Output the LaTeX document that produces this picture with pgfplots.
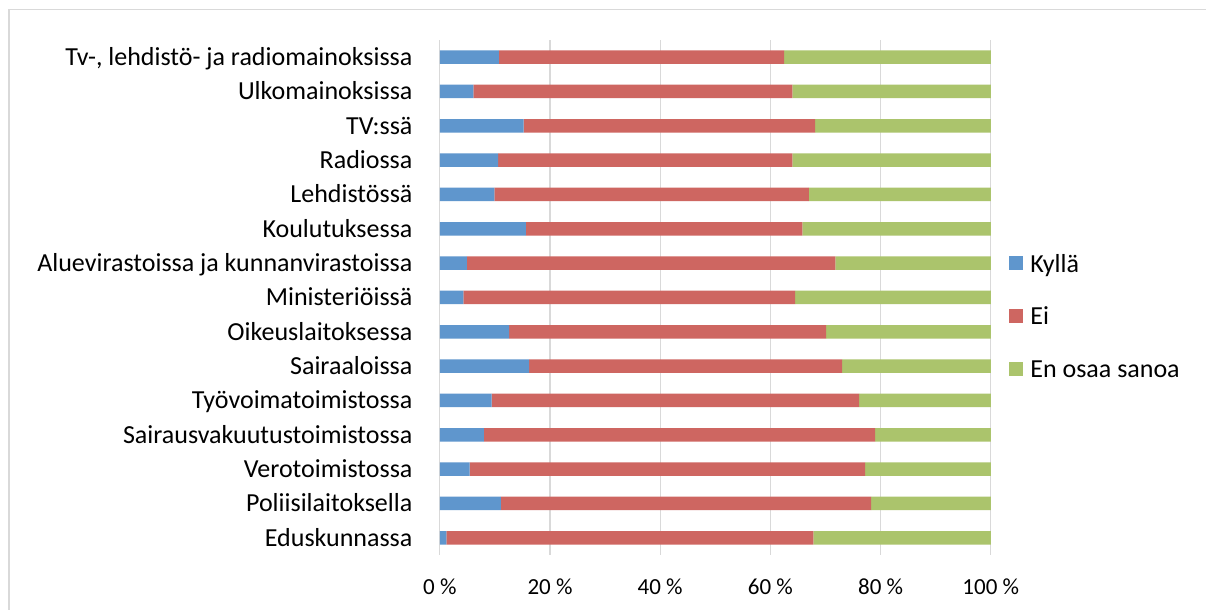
\documentclass[border=0pt]{standalone}
\usepackage{pgfplots}
\pgfplotsset{compat=1.18}
\usepackage{fontspec}
\setmainfont{Carlito}
\definecolor{cK}{HTML}{5F96CD}
\definecolor{cE}{HTML}{CE6661}
\definecolor{cN}{HTML}{ABC46C}
\definecolor{gridc}{HTML}{D9D9D9}
\pgfplotstableread{
y K E N
1 1.2 66.6 32.2
2 11.1 67.2 21.7
3 5.4 71.8 22.8
4 8.0 71.0 21.0
5 9.4 66.7 23.9
6 16.2 56.8 27.0
7 12.6 57.5 29.9
8 4.3 60.2 35.5
9 4.9 66.9 28.2
10 15.6 50.2 34.2
11 9.9 57.1 33.0
12 10.6 53.4 36.0
13 15.2 52.9 31.9
14 6.1 57.9 36.0
15 10.7 51.8 37.5
}\datatable
\begin{document}
\begin{tikzpicture}
\path[use as bounding box, fill=white] (0,0) rectangle (603pt,305pt);
\draw[gridc, line width=0.6pt] (4.5pt,0) -- (4.5pt,300.25pt) -- (603pt,300.25pt);
\begin{axis}[
  at={(219.9pt,27.5pt)}, anchor=south west,
  scale only axis, width=275.5pt, height=257.5pt,
  xbar stacked, bar width=6.75pt,
  xmin=0, xmax=100, ymin=0.5, ymax=15.5,
  axis line style={draw=none},
  major tick length=0pt,
  xtick={0,20,40,60,80,100},
  xticklabels={0 \%,20 \%,40 \%,60 \%,80 \%,100 \%},
  ytick={1,...,15},
  yticklabels={Eduskunnassa,Poliisilaitoksella,Verotoimistossa,Sairausvakuutustoimistossa,Työvoimatoimistossa,Sairaaloissa,Oikeuslaitoksessa,Ministeriöissä,Aluevirastoissa ja kunnanvirastoissa,Koulutuksessa,Lehdistössä,Radiossa,TV:ssä,Ulkomainoksissa,{Tv-, lehdistö- ja radiomainoksissa}},
  xmajorgrids, grid style={gridc, line width=0.6pt},
  xticklabel style={font=\fontsize{11.5}{13}\selectfont, inner sep=0pt, anchor=north, yshift=-12.5pt, text height=7.3pt, text depth=0pt},
  yticklabel style={font=\fontsize{13}{15}\selectfont, inner sep=0pt, anchor=east, xshift=-13.5pt, text height=8.4pt, text depth=0pt},
  legend style={at={(axis description cs:1.033,0.463)}, anchor=west, draw=none, fill=none, inner sep=0pt,
    font=\fontsize{13}{15}\selectfont, row sep=17.95pt, column sep=3.5pt,
    nodes={inner sep=0pt, text height=8.4pt, text depth=0pt}},
  legend cell align=left,
  legend image code/.code={\fill[#1] (0pt,-3.15pt) rectangle (7pt,3.85pt);},
]
\addplot[fill=cK, draw=none] table[x=K, y=y] {\datatable};
\addplot[fill=cE, draw=none] table[x=E, y=y] {\datatable};
\addplot[fill=cN, draw=none] table[x=N, y=y] {\datatable};
\legend{Kyllä,Ei,En osaa sanoa}
\end{axis}
\end{tikzpicture}
\end{document}
